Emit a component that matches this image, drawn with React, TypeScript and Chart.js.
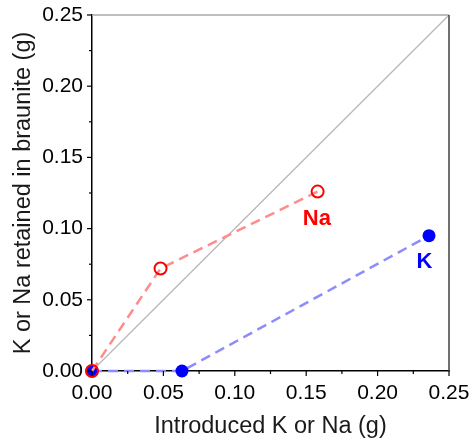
import React, { useEffect, useRef } from "react";
import { Chart, registerables } from "chart.js";

Chart.register(...registerables);

const naX = [0, 0.048, 0.158];
const naY = [0, 0.072, 0.126];
const kX = [0, 0.063, 0.236];
const kY = [0, 0, 0.095];
const diagX = [0, 0.25];
const diagY = [0, 0.25];
const axisMin = 0;
const axisMax = 0.25;
const majorStep = 0.05;
const minorStep = 0.025;
const seriesLabels = [
  { text: "Na", x: 0.1575, y: 0.1067, color: "#ff0000" },
  { text: "K", x: 0.2328, y: 0.0765, color: "#0000ff" },
];

const FONT = "'Liberation Sans', Arial, sans-serif";

const ticksPlugin = {
  id: "customTicks",
  afterDraw(chart: any) {
    const ctx = chart.ctx;
    const { left, right, top, bottom } = chart.chartArea;
    const xs = chart.scales.x;
    const ys = chart.scales.y;
    ctx.save();
    ctx.lineWidth = 1.5;
    ctx.strokeStyle = "#a8a8a8";
    ctx.beginPath();
    ctx.moveTo(left, top);
    ctx.lineTo(right, top);
    ctx.stroke();
    ctx.strokeStyle = "#404040";
    ctx.beginPath();
    ctx.moveTo(right, top);
    ctx.lineTo(right, bottom);
    ctx.stroke();
    ctx.strokeStyle = "#000";
    ctx.lineWidth = 1.2;
    const n = Math.round((axisMax - axisMin) / minorStep);
    for (let i = 0; i <= n; i++) {
      const v = axisMin + i * minorStep;
      const major = i % Math.round(majorStep / minorStep) === 0;
      const len = major ? 5 : 3;
      const px = xs.getPixelForValue(v);
      const py = ys.getPixelForValue(v);
      ctx.beginPath();
      ctx.moveTo(px, bottom);
      ctx.lineTo(px, bottom + len);
      ctx.stroke();
      ctx.beginPath();
      ctx.moveTo(left, py);
      ctx.lineTo(left - len, py);
      ctx.stroke();
    }
    ctx.font = `bold 22px ${FONT}`;
    ctx.textAlign = "center";
    ctx.textBaseline = "middle";
    for (const l of seriesLabels) {
      ctx.fillStyle = l.color;
      ctx.fillText(l.text, xs.getPixelForValue(l.x), ys.getPixelForValue(l.y));
    }
    ctx.restore();
  },
};

export default function App() {
  const ref = useRef<HTMLCanvasElement>(null);
  useEffect(() => {
    document.body.style.margin = "0";
    const toPts = (xs: number[], ys: number[]) => xs.map((x, i) => ({ x, y: ys[i] }));
    const zeroPad = (s: any) => {
      s.paddingLeft = 0;
      s.paddingRight = 0;
      s.paddingTop = 0;
      s.paddingBottom = 0;
    };
    const chart = new Chart(ref.current!, {
      type: "scatter",
      data: {
        datasets: [
          {
            label: "Na",
            data: toPts(naX, naY),
            showLine: true,
            clip: false,
            borderColor: "#ff8c8c",
            borderWidth: 2.5,
            borderDash: [10, 6],
            pointRadius: 6,
            pointBorderWidth: 2,
            pointBorderColor: "#ff0000",
            pointBackgroundColor: "rgba(255,255,255,0)",
            order: 1,
          },
          {
            label: "K",
            data: toPts(kX, kY),
            showLine: true,
            clip: false,
            borderColor: "#8c8cff",
            borderWidth: 2.5,
            borderDash: [10, 6],
            pointRadius: 6.5,
            pointBorderWidth: 0,
            pointBackgroundColor: "#0000ff",
            pointBorderColor: "#0000ff",
            order: 2,
          },
          {
            label: "diag",
            data: toPts(diagX, diagY),
            showLine: true,
            borderColor: "#b8b8b8",
            borderWidth: 1.3,
            pointRadius: 0,
            order: 3,
          },
        ],
      },
      options: {
        animation: false,
        responsive: false,
        layout: { padding: { top: 15, right: 24, left: 0, bottom: 0 } },
        plugins: { legend: { display: false }, tooltip: { enabled: false } },
        scales: {
          x: {
            type: "linear",
            min: axisMin,
            max: axisMax,
            afterFit: (s: any) => {
              s.height = 72;
              zeroPad(s);
            },
            ticks: {
              stepSize: majorStep,
              padding: 10,
              color: "#000",
              font: { family: FONT, size: 21 },
              callback: (v: any) => Number(v).toFixed(2),
            },
            grid: { display: true, drawOnChartArea: false, drawTicks: false },
            border: { display: true, color: "#000", width: 1.5 },
            title: {
              display: true,
              text: "Introduced K or Na (g)",
              color: "#1a1a1a",
              font: { family: FONT, size: 23.5 },
              padding: { top: 0, bottom: 2 },
            },
          },
          y: {
            type: "linear",
            min: axisMin,
            max: axisMax,
            afterFit: (s: any) => {
              s.width = 92;
              zeroPad(s);
            },
            ticks: {
              stepSize: majorStep,
              padding: 9,
              color: "#000",
              font: { family: FONT, size: 21 },
              callback: (v: any) => Number(v).toFixed(2),
            },
            grid: { display: true, drawOnChartArea: false, drawTicks: false },
            border: { display: true, color: "#000", width: 1.5 },
            title: {
              display: true,
              text: "K or Na retained in braunite (g)",
              color: "#1a1a1a",
              font: { family: FONT, size: 23.5 },
              padding: { top: 9, bottom: 0 },
            },
          },
        },
      },
      plugins: [ticksPlugin],
    });
    return () => chart.destroy();
  }, []);
  return (
    <div style={{ width: 473, height: 443, background: "#fff" }}>
      <canvas ref={ref} width={473} height={443} />
    </div>
  );
}
